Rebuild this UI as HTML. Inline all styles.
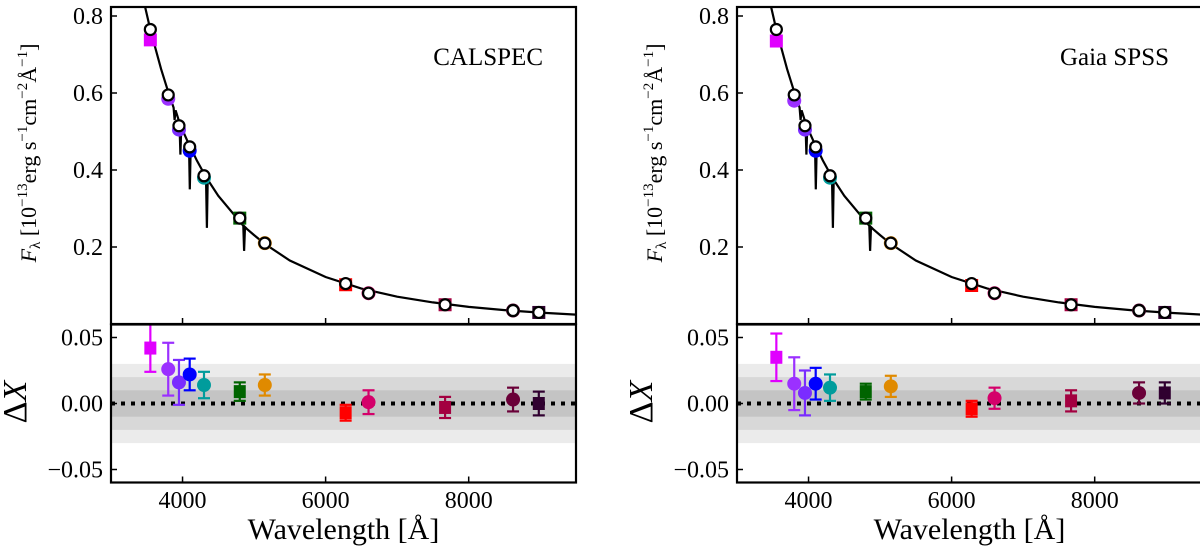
<!DOCTYPE html>
<html><head><meta charset="utf-8"><style>
html,body{margin:0;padding:0;background:#fff;width:1200px;height:552px;overflow:hidden}
svg{display:block;font-family:"Liberation Serif",serif}
</style></head><body>
<svg id="chart" width="1200" height="552" viewBox="0 0 1200 552"></svg>
<script>
const bandWl=[3550,3800,3950,4100,4300,4800,5150,6280,6600,7670,8620,8980];
const bandColors=["#e000ff","#9b30ff","#7a2cff","#0000ff","#009c9c","#006400","#e08a00","#ff0000","#d4006a","#a30040","#6a0038","#300030"];
const bandShapes=["s","c","c","c","c","s","c","s","c","s","c","s"];
const bandHalfWidth=[60,60,50,55,55,60,60,60,50,50,50,50];
const modelFlux=[0.765,0.595,0.515,0.46,0.385,0.275,0.21,0.105,0.08,0.05,0.035,0.03];
const calspecFlux=[0.738,0.585,0.505,0.45,0.38,0.275,0.21,0.102,0.08,0.05,0.035,0.03];
const gaiaFlux=[0.735,0.58,0.505,0.45,0.38,0.275,0.21,0.1,0.08,0.05,0.035,0.03];
const calspecDelta=[0.042,0.026,0.016,0.022,0.014,0.009,0.014,-0.007,0.001,-0.003,0.003,0.0];
const calspecErr=[0.018,0.020,0.017,0.012,0.010,0.007,0.008,0.006,0.009,0.008,0.009,0.009];
const gaiaDelta=[0.035,0.015,0.008,0.015,0.012,0.009,0.013,-0.004,0.004,0.002,0.008,0.008];
const gaiaErr=[0.018,0.020,0.017,0.012,0.010,0.006,0.008,0.006,0.008,0.008,0.008,0.008];
const specWl=[3100,3300,3450,3550,3700,3800,3875,3889,3903,3950,3958,3970,3982,4000,4090,4102,4114,4200,4300,4328,4340,4352,4500,4800,4849,4861,4873,4900,5000,5150,5500,6000,6500,7000,7500,8000,8500,9000,9500];
const specFlux=[1.23,0.988,0.845,0.765,0.662,0.603,0.562,0.53,0.555,0.527,0.52,0.44,0.515,0.504,0.466,0.35,0.458,0.425,0.391,0.38,0.25,0.375,0.333,0.266,0.255,0.19,0.252,0.247,0.231,0.208,0.165,0.122,0.092,0.071,0.056,0.0445,0.036,0.0295,0.0244];
const xTicks=[4000,6000,8000];
const topTicks=[0.2,0.4,0.6,0.8];
const botTicks=[-0.05,0.00,0.05];
const botTickLabels=["\u22120.05","0.00","0.05"];

const NS="http://www.w3.org/2000/svg";
const svg=document.getElementById('chart');
function el(tag,attrs,parent,text){const e=document.createElementNS(NS,tag);for(const k in attrs)e.setAttribute(k,attrs[k]);if(text!==undefined)e.textContent=text;(parent||svg).appendChild(e);return e;}

function panel(ox,label,flux,delta,err,key){
  const L=111+ox,R=576+ox,T1=7,B1=324,T2=324.5,B2=482.5;
  const sx=w=>L+(w-3000)/(9500-3000)*(R-L);
  const sy1=v=>324-v/0.2*77;
  const sy2=v=>403.5-v*1320;
  const g=el('g',{},svg);
  
  const cp=el('clipPath',{id:'c1'+key},g);el('rect',{x:L,y:T1,width:R-L,height:B1-T1},cp);
  const cp2=el('clipPath',{id:'c2'+key},g);el('rect',{x:L,y:T2,width:R-L,height:B2-T2},cp2);
  let d='';specWl.forEach((w,i)=>{d+=(i?'L':'M')+sx(w).toFixed(1)+' '+sy1(specFlux[i]).toFixed(1);});
  const sp=el('path',{d:d,fill:'none',stroke:'#000','stroke-width':2.2,'clip-path':'url(#c1'+key+')'},g);
  
  bandWl.forEach((w,i)=>{
    const c=bandColors[i],x=sx(w),y=sy1(flux[i]);
    const x1=sx(w-bandHalfWidth[i]),x2=sx(w+bandHalfWidth[i]);
    const m=el('g',{},g);
    
    el('line',{x1:x1,x2:x2,y1:y,y2:y,stroke:c,'stroke-width':2.5},m);
    el('line',{x1:x1,x2:x1,y1:y-5,y2:y+5,stroke:c,'stroke-width':2},m);
    el('line',{x1:x2,x2:x2,y1:y-5,y2:y+5,stroke:c,'stroke-width':2},m);
    if(bandShapes[i]==='s')el('rect',{x:x-6.5,y:y-6.5,width:13,height:13,fill:c},m);else el('circle',{cx:x,cy:y,r:7,fill:c},m);
    const mc=el('circle',{cx:x,cy:sy1(modelFlux[i]),r:5.5,fill:'#fff',stroke:'#000','stroke-width':2.2},g);
    
  });
  [[0.03,'#ebebeb'],[0.02,'#d8d8d8'],[0.01,'#c4c4c4']].forEach(([b,c])=>{
    const r=el('rect',{x:L,y:sy2(b),width:R-L,height:sy2(-b)-sy2(b),fill:c},g);
    
  });
  const zl=el('line',{x1:L,x2:R,y1:sy2(0),y2:sy2(0),stroke:'#000','stroke-width':4,'stroke-dasharray':'4 6'},g);
  
  bandWl.forEach((w,i)=>{
    const c=bandColors[i],x=sx(w),y=sy2(delta[i]),ya=sy2(delta[i]+err[i]),yb=sy2(delta[i]-err[i]);
    const m=el('g',{'clip-path':'url(#c2'+key+')'},g);
    
    el('line',{x1:x,x2:x,y1:ya,y2:yb,stroke:c,'stroke-width':2.2},m);
    el('line',{x1:x-6,x2:x+6,y1:ya,y2:ya,stroke:c,'stroke-width':2.2},m);
    el('line',{x1:x-6,x2:x+6,y1:yb,y2:yb,stroke:c,'stroke-width':2.2},m);
    if(bandShapes[i]==='s')el('rect',{x:x-6,y:y-6.5,width:12,height:13,fill:c},m);else el('circle',{cx:x,cy:y,r:7,fill:c},m);
  });
  el('rect',{x:L,y:T1,width:R-L,height:B1-T1,fill:'none',stroke:'#000','stroke-width':2.2},g);
  el('rect',{x:L,y:T2,width:R-L,height:B2-T2,fill:'none',stroke:'#000','stroke-width':2.2},g);
  xTicks.forEach(t=>{
    const x=sx(t);
    el('line',{x1:x,x2:x,y1:B1,y2:B1-6,stroke:'#000','stroke-width':1.5},g);
    el('line',{x1:x,x2:x,y1:B2,y2:B2-6,stroke:'#000','stroke-width':1.5},g);
    const tl=el('text',{x:x,y:508,'font-size':24,'text-anchor':'middle'},g,String(t));
    
  });
  topTicks.forEach(t=>{
    const y=sy1(t);
    el('line',{x1:L,x2:L+6,y1:y,y2:y,stroke:'#000','stroke-width':1.5},g);
    const tl=el('text',{x:L-8,y:y+8,'font-size':24,'text-anchor':'end'},g,t.toFixed(1));
    
  });
  botTicks.forEach((t,i)=>{
    const y=sy2(t);
    el('line',{x1:L,x2:L+6,y1:y,y2:y,stroke:'#000','stroke-width':1.5},g);
    const tl=el('text',{x:L-8,y:y+8,'font-size':24,'text-anchor':'end'},g,botTickLabels[i]);
    
  });
  const lab=el('text',{x:R-33,y:65,'font-size':25,'text-anchor':'end'},g,label);
  
  const xl=el('text',{x:(L+R)/2,y:539,'font-size':30,'text-anchor':'middle'},g,'Wavelength [Å]');
  
  const yl=el('text',{transform:'translate('+(ox+36)+',153) rotate(-90)','font-size':22,'text-anchor':'middle'},g);
  
  el('tspan',{'font-style':'italic'},yl,'F');
  el('tspan',{'font-size':15,dy:4},yl,'λ');
  el('tspan',{dy:-4},yl,' [10');
  el('tspan',{'font-size':15,dy:-9},yl,'−13');
  el('tspan',{dy:9},yl,'erg s');
  el('tspan',{'font-size':15,dy:-9},yl,'−1');
  el('tspan',{dy:9},yl,'cm');
  el('tspan',{'font-size':15,dy:-9},yl,'−2');
  el('tspan',{dy:9},yl,'Å');
  el('tspan',{'font-size':15,dy:-9},yl,'−1');
  el('tspan',{dy:9},yl,']');
  const dl=el('text',{transform:'translate('+(ox+26)+',402) rotate(-90)','font-size':34,'text-anchor':'middle'},g);
  
  el('tspan',{},dl,'Δ');el('tspan',{'font-style':'italic'},dl,'X');
}
panel(0,'CALSPEC',calspecFlux,calspecDelta,calspecErr,'calspec');
panel(626,'Gaia SPSS',gaiaFlux,gaiaDelta,gaiaErr,'gaia');
</script>
</body></html>
